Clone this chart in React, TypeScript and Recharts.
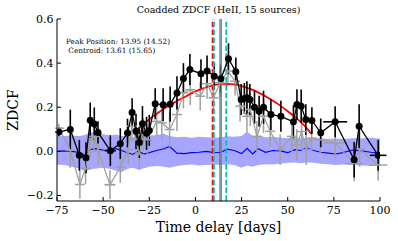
import React from 'react';
import { ComposedChart, Area, Line, Scatter, ErrorBar, XAxis, YAxis, ReferenceLine } from 'recharts';

// axes
const xTicks = [-75, -50, -25, 0, 25, 50, 75, 100];
const yTicks = [-0.2, 0.0, 0.2, 0.4, 0.6];

// coadded ZDCF (black)
const blackDays = [-74, -67.8, -62.9, -59.3, -57.0, -54.8, -52.8, -46.1, -40.7, -36.8, -34.3, -32.2, -30.4, -28.7, -26.5, -25.0, -21.8, -17.5, -13.7, -10.0, -6.5, -3.0, 3.0, 6.3, 10.2, 13.8, 17.9, 21.9, 24.8, 26.5, 27.9, 29.5, 32.0, 34.5, 36.9, 40.9, 46.3, 53.1, 55.0, 57.3, 59.8, 63.1, 67.9, 75.7, 86.0, 88.7, 99.0];
const blackZdcf = [0.088, 0.099, -0.018, -0.029, 0.141, 0.124, 0.086, 0.003, 0.035, 0.083, 0.176, 0.091, 0.040, 0.125, 0.082, 0.095, 0.216, 0.211, 0.214, 0.265, 0.330, 0.371, 0.352, 0.364, 0.341, 0.329, 0.420, 0.361, 0.235, 0.240, 0.243, 0.235, 0.200, 0.182, 0.200, 0.167, 0.159, 0.134, 0.212, 0.205, 0.144, 0.140, 0.084, 0.134, -0.038, 0.114, -0.018];
const blackErr = [0.02, 0.09, 0.07, 0.07, 0.08, 0.075, 0.05, 0.07, 0.07, 0.065, 0.065, 0.08, 0.07, 0.08, 0.075, 0.07, 0.07, 0.075, 0.08, 0.075, 0.07, 0.07, 0.065, 0.07, 0.06, 0.065, 0.07, 0.065, 0.07, 0.07, 0.075, 0.07, 0.075, 0.07, 0.075, 0.07, 0.07, 0.075, 0.07, 0.075, 0.07, 0.06, 0.065, 0.07, 0.08, 0.1, 0.07];
const blackXErr = [2, 0, 0, 0, 0, 0, 0, 3, 0, 0, 0, 0, 0, 0, 0, 0, 0, 0, 0, 0, 0, 0, 0, 0, 0, 0, 0, 0, 0, 0, 0, 0, 0, 0, 0, 0, 0, 0, 0, 0, 0, 0, 0, 6.5, 0, 0, 4.5];

// grey series
const greyDays = [-74, -67.8, -62.6, -59.5, -57.0, -55.0, -52.6, -46.3, -40.7, -36.4, -34.4, -32.2, -30.4, -28.2, -26.0, -21.0, -18.2, -14.0, -10.0, -6.5, -2.8, 2.6, 6.3, 9.8, 13.4, 17.6, 21.5, 24.2, 27.9, 29.7, 33.3, 36.9, 40.5, 45.9, 52.2, 54.9, 57.5, 60.0, 63.0, 67.6, 75.7, 86.0, 89.0, 99.0];
const greyZdcf = [0.105, 0.005, -0.150, -0.078, 0.050, 0.068, 0.000, -0.151, -0.072, 0.008, 0.114, 0.053, -0.015, 0.076, 0.053, 0.136, 0.129, 0.099, 0.167, 0.265, 0.280, 0.250, 0.307, 0.243, 0.311, 0.364, 0.318, 0.205, 0.159, 0.190, 0.068, 0.159, 0.091, 0.008, 0.068, 0.030, 0.090, 0.008, 0.060, 0.053, 0.038, -0.055, 0.010, -0.062];
const greyErr = [0.02, 0.08, 0.065, 0.07, 0.075, 0.07, 0.06, 0.065, 0.07, 0.065, 0.07, 0.075, 0.07, 0.075, 0.07, 0.07, 0.075, 0.08, 0.075, 0.07, 0.07, 0.065, 0.07, 0.06, 0.065, 0.07, 0.065, 0.07, 0.07, 0.075, 0.07, 0.075, 0.07, 0.07, 0.075, 0.07, 0.075, 0.07, 0.06, 0.065, 0.07, 0.08, 0.08, 0.07];
const greyXErr = [2, 0, 0, 0, 0, 0, 0, 3, 0, 0, 0, 0, 0, 0, 0, 0, 0, 0, 0, 0, 0, 0, 0, 0, 0, 0, 0, 0, 0, 0, 0, 0, 0, 0, 0, 0, 0, 0, 0, 0, 6, 5, 0, 5];

// random-pair mean and 1-sigma band (blue)
const blueDays = [-75, -71, -67, -63, -60, -57, -54, -50, -46, -43, -40, -37, -34, -31, -28, -25, -21, -17, -14, -10, -6, -2, 2, 6, 10, 14, 17, 21, 25, 28, 31, 34, 38, 42, 46, 50, 54, 57, 60, 64, 68, 72, 76, 80, 85, 90, 95, 100];
const blueMean = [0.0, 0.002, 0.0, -0.005, -0.016, 0.008, 0.012, 0.006, 0.005, 0.012, 0.004, -0.006, -0.014, 0.002, -0.012, -0.006, 0.004, 0.012, 0.022, -0.008, -0.01, -0.006, -0.004, 0.0, -0.006, -0.004, 0.01, 0.004, -0.01, 0.014, -0.012, 0.012, -0.004, 0.004, 0.002, -0.006, 0.008, 0.004, 0.016, 0.004, -0.004, -0.008, -0.012, -0.006, 0.006, 0.002, -0.004, -0.008];
const bandHigh = [0.068, 0.07, 0.072, 0.07, 0.074, 0.086, 0.09, 0.078, 0.072, 0.076, 0.07, 0.068, 0.064, 0.07, 0.066, 0.072, 0.074, 0.08, 0.07, 0.064, 0.066, 0.062, 0.066, 0.064, 0.062, 0.064, 0.068, 0.066, 0.07, 0.09, 0.07, 0.072, 0.064, 0.066, 0.062, 0.06, 0.064, 0.058, 0.062, 0.06, 0.058, 0.056, 0.058, 0.056, 0.06, 0.058, 0.062, 0.058];
const bandLow = [-0.06, -0.062, -0.07, -0.078, -0.09, -0.082, -0.078, -0.074, -0.08, -0.088, -0.094, -0.08, -0.074, -0.082, -0.078, -0.07, -0.066, -0.07, -0.074, -0.066, -0.062, -0.06, -0.064, -0.062, -0.06, -0.062, -0.058, -0.062, -0.074, -0.064, -0.07, -0.062, -0.058, -0.06, -0.056, -0.052, -0.05, -0.054, -0.05, -0.052, -0.056, -0.058, -0.062, -0.06, -0.062, -0.064, -0.066, -0.066];

// fit to the peak (red)
const redDays = [-31, -28, -25, -20, -15, -10, -5, 0, 5, 10, 14, 20, 25, 30, 35, 40, 45, 50, 55, 60, 63];
const redFit = [0.102, 0.124, 0.145, 0.176, 0.204, 0.228, 0.25, 0.272, 0.288, 0.3, 0.306, 0.305, 0.296, 0.282, 0.263, 0.24, 0.213, 0.182, 0.148, 0.108, 0.078];

// lag markers
const centroidLow = 9.3;
const centroidLag = 13.3;
const peakLow = 10.0;
const peakLag = 14.0;
const peakHigh = 16.7;

const blackData = blackDays.map((d, i) => ({ day: d, y: blackZdcf[i], yerr: blackErr[i], xerr: blackXErr[i] }));
const greyData = greyDays.map((d, i) => ({ day: d, y: greyZdcf[i], yerr: greyErr[i], xerr: greyXErr[i] }));
const bandData = blueDays.map((d, i) => ({ day: d, mean: blueMean[i], band: [bandLow[i], bandHigh[i]] }));
const redData = redDays.map((d, i) => ({ day: d, fit: redFit[i] }));

const serif = '"DejaVu Serif", serif';
const tickStyle = { fontFamily: serif, fontSize: 11, fill: '#000' };
const fmt = (v: number, digits: number) => (v < 0 ? `\u2212${Math.abs(v).toFixed(digits)}` : v.toFixed(digits));

const BlackDot = (props: any) => <circle cx={props.cx} cy={props.cy} r={3.5} fill="#000" />;
const GreyTick = (props: any) => (
  <line x1={props.cx - 5} x2={props.cx + 5} y1={props.cy} y2={props.cy} stroke="#a0a0a0" strokeWidth={1.5} />
);

export default function App() {
  return (
    <div style={{ position: 'absolute', left: 0, top: 0, width: 398, height: 241, background: '#fff' }}>
      <ComposedChart width={398} height={241} data={bandData} margin={{ top: 19, right: 18, bottom: 0, left: 7 }}>
        <XAxis
          type="number"
          dataKey="day"
          domain={[-75, 100]}
          ticks={xTicks}
          allowDataOverflow
          height={40}
          tickSize={-4}
          tickMargin={9}
          tick={tickStyle}
          tickFormatter={(v) => fmt(v, 0)}
          axisLine={{ stroke: '#000' }}
          tickLine={{ stroke: '#000' }}
        />
        <XAxis
          xAxisId="top"
          orientation="top"
          type="number"
          dataKey="day"
          domain={[-75, 100]}
          ticks={xTicks}
          allowDataOverflow
          height={0}
          tickSize={-4}
          tick={false}
          axisLine={{ stroke: '#000' }}
          tickLine={{ stroke: '#000' }}
        />
        <YAxis
          type="number"
          domain={[-0.225, 0.6]}
          ticks={yTicks}
          allowDataOverflow
          width={50}
          tickSize={-4}
          tickMargin={7.5}
          tick={tickStyle}
          tickFormatter={(v) => fmt(v, 1)}
          axisLine={{ stroke: '#000' }}
          tickLine={{ stroke: '#000' }}
        />
        <YAxis
          yAxisId="right"
          orientation="right"
          type="number"
          domain={[-0.225, 0.6]}
          ticks={yTicks}
          allowDataOverflow
          width={0}
          tickSize={-4}
          tick={false}
          axisLine={{ stroke: '#000' }}
          tickLine={{ stroke: '#000' }}
        />
        <Area
          dataKey="band"
          type="linear"
          stroke="none"
          fill="#0000ff"
          fillOpacity={0.35}
          dot={false}
          activeDot={false}
          isAnimationActive={false}
        />
        <Line
          dataKey="mean"
          type="linear"
          stroke="#0000ff"
          strokeWidth={1.2}
          dot={false}
          activeDot={false}
          isAnimationActive={false}
        />
        <Scatter
          data={greyData}
          dataKey="y"
          line={{ stroke: '#a0a0a0', strokeWidth: 1.3 }}
          lineType="joint"
          shape={GreyTick}
          isAnimationActive={false}
        >
          <ErrorBar dataKey="yerr" direction="y" width={0} stroke="#a0a0a0" strokeWidth={1.5} isAnimationActive={false} />
          <ErrorBar dataKey="xerr" direction="x" width={0} stroke="#a0a0a0" strokeWidth={1.5} isAnimationActive={false} />
        </Scatter>
        <Line
          data={redData}
          dataKey="fit"
          type="monotone"
          stroke="#ff0000"
          strokeWidth={1.8}
          dot={false}
          activeDot={false}
          isAnimationActive={false}
        />
        <Scatter
          data={blackData}
          dataKey="y"
          line={{ stroke: '#000', strokeWidth: 1.3 }}
          lineType="joint"
          shape={BlackDot}
          isAnimationActive={false}
        >
          <ErrorBar dataKey="yerr" direction="y" width={0} stroke="#000" strokeWidth={1.6} isAnimationActive={false} />
          <ErrorBar dataKey="xerr" direction="x" width={0} stroke="#000" strokeWidth={1.6} isAnimationActive={false} />
        </Scatter>
        <ReferenceLine x={centroidLow} stroke="#ff0000" strokeWidth={1.8} strokeDasharray="5.5 2.4" />
        <ReferenceLine x={peakLow} stroke="#00bfbf" strokeWidth={1.8} strokeDasharray="5.5 2.4" />
        <ReferenceLine x={centroidLag} stroke="#ff0000" strokeWidth={1} />
        <ReferenceLine x={peakLag} stroke="#00bfbf" strokeWidth={1.5} />
        <ReferenceLine x={peakHigh} stroke="#00bfbf" strokeWidth={1.8} strokeDasharray="5.5 2.4" />
      </ComposedChart>

      <div style={{ position: 'absolute', left: 57, width: 323, top: 3, textAlign: 'center', fontFamily: serif, fontSize: 9.5, lineHeight: '13px' }}>
        Coadded ZDCF (HeII, 15 sources)
      </div>
      <div style={{ position: 'absolute', left: 66, top: 37, fontFamily: serif, fontSize: 7.3, lineHeight: '9px', whiteSpace: 'pre' }}>
        {'Peak Position: 13.95 (14.52)\n Centroid: 13.61 (15.65)'}
      </div>
      <div style={{ position: 'absolute', left: 57, width: 323, top: 218, textAlign: 'center', fontFamily: serif, fontSize: 14, lineHeight: '18px' }}>
        Time delay [days]
      </div>
      <div
        style={{
          position: 'absolute',
          left: 12.5,
          top: 110,
          transform: 'translate(-50%, -50%) rotate(-90deg)',
          fontFamily: serif,
          fontSize: 14,
          lineHeight: '18px',
          whiteSpace: 'nowrap',
        }}
      >
        ZDCF
      </div>
    </div>
  );
}
